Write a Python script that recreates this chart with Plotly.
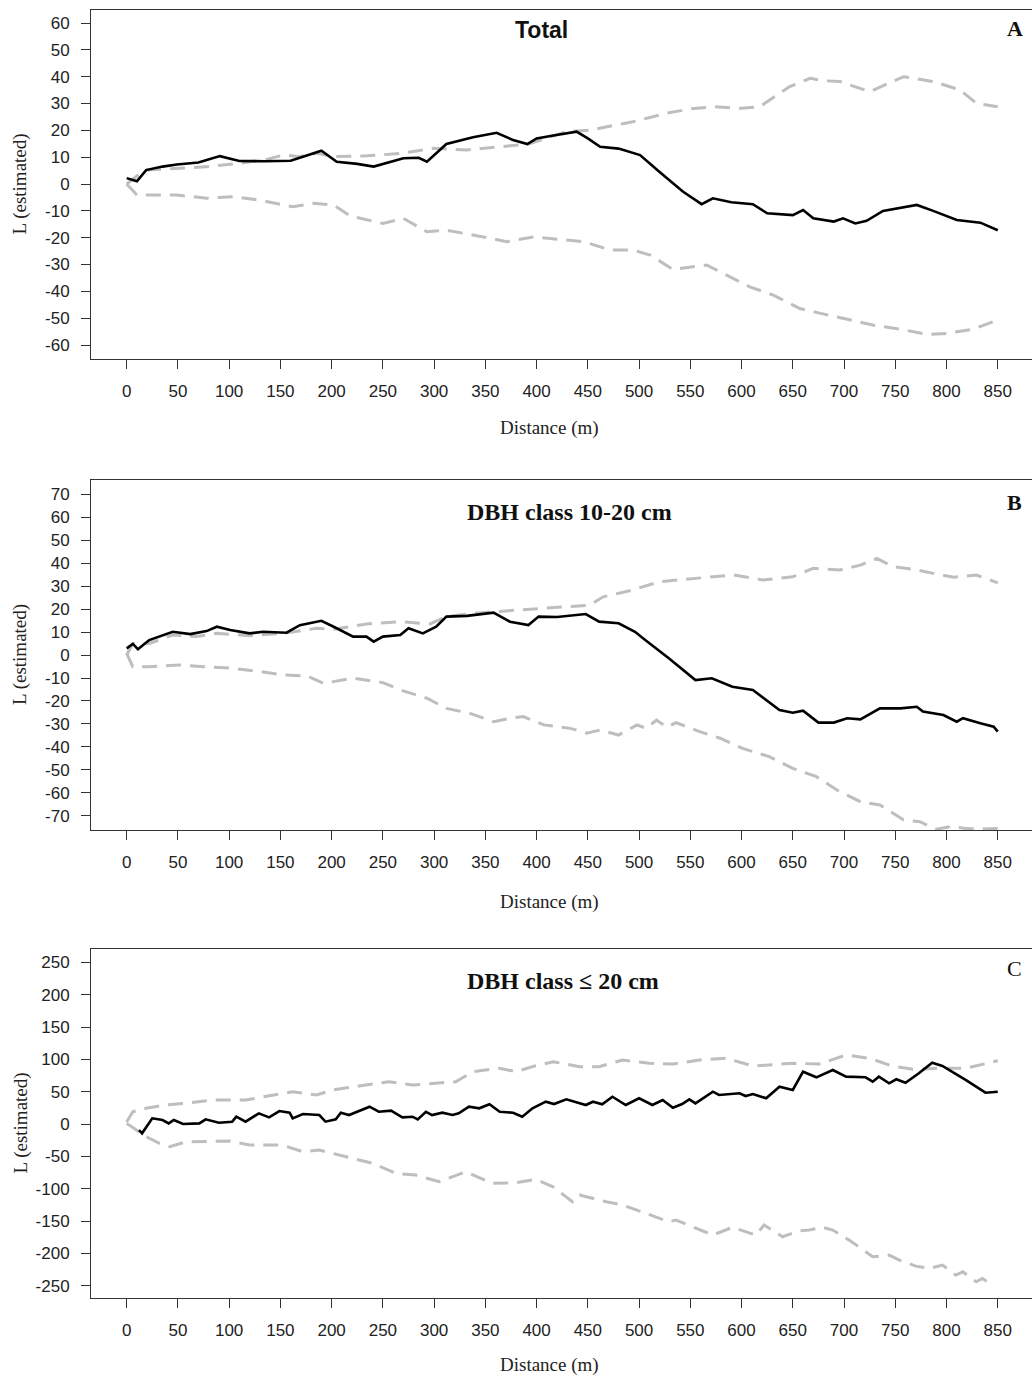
import plotly.graph_objects as go

W, H = 1032, 1376

# ---------------- Panel A: Total ----------------
a_obs_d = [0, 10, 19, 35, 49, 70, 91, 110, 135, 160, 175, 190, 205, 225, 241, 255, 270, 285, 293,
           312, 338, 361, 377, 391, 400, 415, 439, 450, 462, 480, 501, 520, 543, 561, 572, 590,
           611, 625, 650, 660, 670, 690, 699, 711, 722, 738, 755, 771, 787, 810, 833, 850]
a_obs_L = [2.2, 1.0, 5.2, 6.5, 7.3, 8.0, 10.4, 8.6, 8.5, 8.7, 10.5, 12.4, 8.3, 7.5, 6.5, 8.0, 9.6, 9.8, 8.3,
           14.9, 17.4, 19.1, 16.4, 14.9, 17.0, 18.0, 19.5, 17.0, 13.9, 13.2, 10.8, 4.5, -2.9, -7.5, -5.3, -6.8,
           -7.5, -10.9, -11.6, -9.7, -12.8, -14.0, -12.8, -14.7, -13.7, -10.0, -9.0, -7.8, -10.0, -13.4, -14.4, -17.2]

a_hi_d = [0, 10, 19, 49, 80, 110, 135, 153, 169, 185, 202, 235, 267, 299, 332, 365, 392, 429, 452,
          494, 527, 550, 572, 600, 618, 625, 647, 667, 680, 696, 725, 758, 787, 813, 829, 850]
a_hi_L = [0, 3.0, 5.2, 5.8, 6.5, 7.7, 9.0, 10.8, 10.2, 11.5, 10.2, 10.5, 11.4, 13.3, 12.7, 13.9, 14.9, 19.5, 20.1,
          23.2, 26.4, 28.0, 28.8, 28.2, 28.8, 30.7, 36.3, 39.4, 38.5, 38.2, 34.4, 40.0, 38.2, 35.1, 30.1, 28.8]

a_lo_d = [0, 10, 49, 78, 104, 130, 162, 182, 202, 218, 250, 270, 293, 312, 348, 371, 397, 420, 446,
          472, 494, 511, 533, 566, 579, 608, 631, 657, 677, 699, 729, 755, 781, 800, 826, 850]
a_lo_L = [0, -4.1, -4.1, -5.3, -4.7, -6.0, -8.5, -7.2, -7.8, -11.9, -14.7, -12.8, -17.8, -17.2, -19.7, -21.5,
          -19.7, -20.5, -21.5, -24.6, -24.6, -26.5, -31.8, -30.2, -32.7, -38.3, -41.4, -46.4, -48.2, -50.1,
          -52.6, -54.1, -56.0, -55.7, -54.1, -50.7]

# ---------------- Panel B: DBH class 10-20 cm ----------------
b_obs_d = [0, 6, 11, 22, 45, 62, 78, 88, 101, 120, 133, 156, 169, 190, 202, 221, 234, 241, 250, 267,
           275, 289, 302, 312, 332, 358, 374, 392, 402, 420, 448, 461, 480, 496, 506, 529, 555, 571,
           591, 611, 637, 650, 660, 675, 690, 703, 716, 735, 755, 771, 777, 797, 810, 816, 833, 846, 850]
b_obs_L = [2.9, 4.8, 2.5, 6.5, 10.1, 9.1, 10.4, 12.3, 10.9, 9.4, 10.1, 9.7, 13.0, 14.9, 12.3, 8.0, 8.0, 5.8,
           8.0, 8.7, 11.6, 9.4, 12.3, 16.7, 17.0, 18.4, 14.5, 13.0, 16.7, 16.5, 17.8, 14.5, 13.8, 10.1, 6.5,
           -1.4, -10.9, -10.1, -13.8, -15.2, -23.9, -25.1, -24.2, -29.4, -29.4, -27.5, -28.0, -23.2, -23.2,
           -22.5, -24.6, -26.1, -29.0, -27.5, -29.7, -31.2, -33.3]

b_hi_d = [0, 6, 22, 45, 68, 88, 120, 153, 185, 202, 234, 267, 296, 312, 345, 384, 429, 452, 465, 494,
          520, 559, 592, 621, 650, 670, 696, 716, 732, 748, 771, 787, 807, 829, 850]
b_hi_L = [0, 5.0, 5.0, 8.7, 8.0, 9.4, 8.4, 9.4, 11.6, 11.2, 13.5, 14.5, 13.5, 16.7, 18.4, 19.6, 20.7, 21.7,
          25.3, 28.3, 31.9, 33.3, 34.8, 32.6, 34.0, 37.7, 37.0, 39.1, 42.0, 38.4, 37.0, 35.5, 33.8, 34.8, 31.4]

b_lo_d = [0, 6, 22, 51, 75, 104, 130, 153, 176, 192, 221, 250, 267, 293, 312, 335, 358, 374, 387, 407,
          433, 449, 462, 480, 498, 507, 517, 527, 536, 559, 579, 601, 627, 650, 673, 693, 716, 735, 758,
          774, 790, 804, 820, 835, 850]
b_lo_L = [0.7, -5.1, -5.1, -4.3, -5.1, -5.8, -7.2, -8.7, -9.1, -12.3, -10.1, -12.0, -15.2, -18.8, -23.2,
          -25.4, -29.0, -27.5, -26.8, -30.4, -31.9, -34.0, -32.6, -34.8, -30.4, -31.9, -28.3, -31.4, -29.4,
          -33.3, -36.2, -40.6, -44.2, -49.3, -52.9, -58.7, -63.8, -65.2, -71.7, -72.5, -75.8, -74.6, -75.5,
          -75.7, -75.5]

# ---------------- Panel C: DBH class <= 20 cm ----------------
c_obs_d = [12, 15, 25, 35, 41, 46, 55, 71, 77, 90, 103, 107, 116, 129, 139, 149, 159, 162, 172, 188,
           194, 204, 209, 217, 237, 246, 258, 269, 279, 284, 292, 298, 308, 318, 324, 334, 344, 354,
           364, 377, 386, 396, 409, 417, 429, 448, 455, 464, 474, 487, 500, 513, 523, 533, 542, 549,
           555, 572, 578, 598, 604, 611, 624, 637, 650, 660, 673, 689, 702, 721, 728, 734, 744, 751,
           760, 773, 786, 796, 819, 838, 850]
c_obs_L = [-9.3, -14.4, 8.8, 6.2, 1.0, 6.2, 0.0, 1.0, 7.2, 2.0, 3.6, 11.3, 3.6, 16.5, 10.3, 20.1, 17.5,
           8.8, 15.5, 13.9, 3.6, 7.2, 17.5, 13.9, 26.8, 19.0, 20.6, 10.3, 11.3, 7.2, 19.0, 13.9, 17.5, 13.9,
           16.5, 26.8, 24.3, 30.5, 19.0, 17.5, 11.3, 24.3, 34.5, 30.9, 38.2, 29.4, 34.5, 30.5, 42.2, 29.4,
           39.8, 29.4, 37.1, 25.2, 30.9, 38.2, 32.0, 50.0, 44.9, 47.5, 43.3, 46.4, 39.8, 57.7, 52.6, 80.9,
           72.2, 83.5, 73.2, 72.2, 65.4, 73.2, 63.0, 69.2, 63.9, 78.4, 94.8, 89.7, 68.0, 48.4, 50.0]

c_hi_d = [0, 6, 19, 38, 58, 84, 116, 136, 162, 185, 201, 233, 256, 279, 298, 321, 338, 364, 380, 396,
          416, 442, 461, 484, 510, 533, 559, 585, 611, 630, 650, 676, 702, 725, 747, 767, 793, 819,
          832, 850]
c_hi_L = [3.0, 19.0, 24.3, 29.4, 32.0, 37.1, 37.1, 42.2, 50.0, 44.9, 52.6, 60.3, 65.4, 60.3, 63.0, 65.4,
          80.9, 86.2, 80.9, 88.7, 96.4, 88.7, 88.7, 99.0, 93.9, 92.8, 99.0, 101.6, 89.7, 91.3, 93.9, 92.8,
          106.7, 101.6, 89.7, 84.6, 86.2, 86.2, 91.3, 97.9]

c_lo_d = [0, 19, 32, 42, 58, 77, 100, 120, 152, 172, 188, 214, 240, 263, 282, 305, 331, 357, 380, 399,
          416, 435, 442, 468, 484, 507, 529, 536, 559, 572, 591, 604, 614, 622, 640, 656, 666, 679,
          689, 705, 728, 744, 754, 770, 783, 796, 809, 816, 829, 835, 845]
c_lo_L = [1.0, -19.6, -29.9, -35.1, -27.4, -27.4, -26.3, -32.5, -32.5, -42.9, -40.2, -50.6, -60.8, -76.3,
          -78.9, -89.3, -73.8, -91.7, -90.8, -85.6, -97.0, -120.2, -109.8, -120.2, -125.3, -138.2, -151.1,
          -148.5, -164.0, -171.7, -159.8, -166.6, -171.7, -156.2, -174.3, -165.1, -164.0, -159.8, -164.0,
          -179.5, -205.3, -202.7, -210.4, -219.7, -223.3, -218.1, -233.6, -228.5, -244.0, -238.7, -249.0]

x_ticks = list(range(0, 851, 50))
a_ticks = list(range(-60, 61, 10))
b_ticks = list(range(-70, 71, 10))
c_ticks = list(range(-250, 251, 50))

titles = ["<b>Total</b>", "<b>DBH class 10-20 cm</b>", "<b>DBH class \u2264 20 cm</b>"]
letters = ["<b>A</b>", "<b>B</b>", "C"]

SANS = "Liberation Sans, Arial, sans-serif"
SERIF = "Liberation Serif, Times New Roman, serif"
AXC = "#333333"
GREY = "#bebebe"


def py(v):
    """Convert a pixel row (from the top) to paper coordinates."""
    return 1 - v / H


panels = [
    dict(obs=(a_obs_d, a_obs_L), hi=(a_hi_d, a_hi_L), lo=(a_lo_d, a_lo_L),
         yrange=[-65.2, 64.85], yticks=a_ticks, top=10, bottom=359,
         title_y=30, title_x=541, title_font=dict(family=SANS, size=23, color="#111"),
         letter_y=29, xlab_y=428),
    dict(obs=(b_obs_d, b_obs_L), hi=(b_hi_d, b_hi_L), lo=(b_lo_d, b_lo_L),
         yrange=[-76.1, 76.1], yticks=b_ticks, top=480, bottom=830,
         title_y=512, title_x=569, title_font=dict(family=SERIF, size=24, color="#111"),
         letter_y=503, xlab_y=902),
    dict(obs=(c_obs_d, c_obs_L), hi=(c_hi_d, c_hi_L), lo=(c_lo_d, c_lo_L),
         yrange=[-269.0, 270.6], yticks=c_ticks, top=949, bottom=1298,
         title_y=981, title_x=563, title_font=dict(family=SERIF, size=24, color="#111"),
         letter_y=968, xlab_y=1365),
]

fig = go.Figure()
layout = dict(
    width=W, height=H,
    margin=dict(l=0, r=0, t=0, b=0),
    paper_bgcolor="white", plot_bgcolor="white",
    showlegend=False,
    annotations=[],
)

for i, p in enumerate(panels, start=1):
    xa = "x" if i == 1 else f"x{i}"
    ya = "y" if i == 1 else f"y{i}"
    for key in ("hi", "lo"):
        d, L = p[key]
        fig.add_trace(go.Scatter(x=d, y=L, mode="lines", xaxis=xa, yaxis=ya,
                                 line=dict(color=GREY, width=3, dash="15px,9px"),
                                 hoverinfo="skip"))
    d, L = p["obs"]
    fig.add_trace(go.Scatter(x=d, y=L, mode="lines", xaxis=xa, yaxis=ya,
                             line=dict(color="black", width=2.6), hoverinfo="skip"))

    xname = "xaxis" if i == 1 else f"xaxis{i}"
    yname = "yaxis" if i == 1 else f"yaxis{i}"
    layout[xname] = dict(
        domain=[91 / W, 1], range=[-34.8, 883.4], anchor=ya,
        tickmode="array", tickvals=x_ticks, ticktext=[str(t) for t in x_ticks],
        ticks="outside", ticklen=9, tickwidth=1, tickcolor=AXC,
        showline=True, linecolor=AXC, linewidth=1, mirror=True,
        showgrid=False, zeroline=False,
        tickfont=dict(family=SANS, size=17, color="#222"),
        ticklabelstandoff=8,
    )
    layout[yname] = dict(
        domain=[py(p["bottom"]), py(p["top"])], range=p["yrange"], anchor=xa,
        tickmode="array", tickvals=p["yticks"], ticktext=[str(t) for t in p["yticks"]],
        ticks="outside", ticklen=9, tickwidth=1, tickcolor=AXC,
        showline=True, linecolor=AXC, linewidth=1, mirror=False,
        showgrid=False, zeroline=False,
        tickfont=dict(family=SANS, size=17, color="#222"),
        ticklabelstandoff=8,
    )

    mid = (p["top"] + p["bottom"]) / 2
    layout["annotations"] += [
        dict(text=titles[i - 1], x=p["title_x"] / W, y=py(p["title_y"]), xref="paper", yref="paper",
             xanchor="center", yanchor="middle", showarrow=False, font=p["title_font"]),
        dict(text=letters[i - 1], x=1005 / W, y=py(p["letter_y"]), xref="paper", yref="paper",
             xanchor="left", yanchor="middle", showarrow=False,
             font=dict(family=SERIF, size=22, color="#111")),
        dict(text="Distance (m)", x=549 / W, y=py(p["xlab_y"]), xref="paper", yref="paper",
             xanchor="center", yanchor="middle", showarrow=False,
             font=dict(family=SERIF, size=19, color="#222")),
        dict(text="L (estimated)", x=20 / W, y=py(mid), xref="paper", yref="paper",
             xanchor="center", yanchor="middle", showarrow=False, textangle=-90,
             font=dict(family=SERIF, size=19, color="#222")),
    ]

fig.update_layout(**layout)
fig.write_html("out.html")
